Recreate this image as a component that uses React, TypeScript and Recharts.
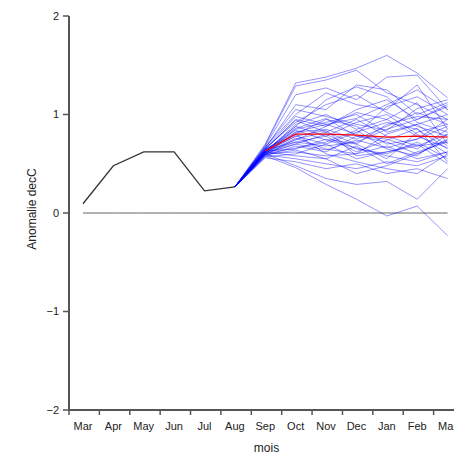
import React from 'react';
import { LineChart, Line, XAxis, YAxis, Label } from 'recharts';

const monthLabels = ['Mar', 'Apr', 'May', 'Jun', 'Jul', 'Aug', 'Sep', 'Oct', 'Nov', 'Dec', 'Jan', 'Feb', 'Mar'];
const monthIndex = [0, 1, 2, 3, 4, 5, 6, 7, 8, 9, 10, 11, 12];
const yTicks = [-2, -1, 0, 1, 2];

// Observed anomaly, Mar..Aug
const observed = [0.094, 0.48, 0.62, 0.62, 0.225, 0.265];
// Ensemble mean, Sep..Mar
const ensembleMean = [0.63, 0.8, 0.8, 0.79, 0.77, 0.78, 0.77];
// Ensemble members, Sep..Mar (all start from the last observed value in Aug)
const members: number[][] = [
  [0.70, 1.32, 1.38, 1.47, 1.60, 1.42, 1.17],
  [0.69, 1.29, 1.35, 1.45, 1.22, 1.10, 0.95],
  [0.68, 1.20, 1.27, 1.15, 1.38, 1.40, 1.05],
  [0.66, 1.10, 1.05, 1.30, 1.25, 1.00, 1.12],
  [0.67, 1.00, 1.22, 1.10, 1.05, 1.30, 0.85],
  [0.64, 0.95, 0.88, 1.05, 1.15, 0.95, 1.10],
  [0.62, 0.90, 1.00, 0.85, 0.95, 1.12, 0.70],
  [0.61, 0.85, 0.92, 1.00, 0.82, 0.90, 1.00],
  [0.63, 0.88, 0.78, 0.92, 1.00, 0.80, 0.60],
  [0.60, 0.82, 0.85, 0.75, 0.88, 1.02, 0.90],
  [0.65, 0.80, 0.95, 0.88, 0.70, 0.75, 0.95],
  [0.62, 0.78, 0.70, 0.82, 0.92, 0.85, 0.65],
  [0.59, 0.75, 0.82, 0.95, 0.78, 0.68, 0.80],
  [0.64, 0.72, 0.68, 0.72, 0.85, 0.95, 1.08],
  [0.61, 0.70, 0.80, 0.65, 0.60, 0.72, 0.55],
  [0.58, 0.68, 0.62, 0.78, 0.72, 0.60, 0.75],
  [0.63, 0.65, 0.75, 0.70, 0.55, 0.82, 0.90],
  [0.60, 0.62, 0.58, 0.60, 0.68, 0.55, 0.62],
  [0.57, 0.60, 0.70, 0.55, 0.62, 0.70, 0.50],
  [0.62, 0.58, 0.55, 0.68, 0.50, 0.62, 0.72],
  [0.59, 0.55, 0.50, 0.45, 0.52, 0.48, 0.58],
  [0.56, 0.52, 0.45, 0.50, 0.40, 0.45, 0.35],
  [0.60, 0.48, 0.35, 0.29, 0.32, 0.14, 0.45],
  [0.58, 0.46, 0.29, 0.14, -0.03, 0.07, -0.23],
  [0.66, 0.92, 1.10, 1.20, 1.02, 0.88, 0.78],
  [0.65, 0.98, 0.90, 0.80, 1.08, 1.18, 1.00],
  [0.63, 0.86, 0.96, 0.78, 0.75, 0.65, 0.85],
  [0.61, 0.76, 0.65, 0.60, 0.80, 0.90, 0.68],
  [0.64, 0.84, 0.74, 0.66, 0.58, 0.52, 0.62],
  [0.62, 0.74, 0.88, 1.02, 0.95, 0.78, 0.66],
  [0.60, 0.66, 0.72, 0.84, 0.65, 0.58, 0.80],
  [0.67, 1.05, 0.98, 0.90, 0.84, 1.06, 1.15],
  [0.63, 0.80, 0.60, 0.52, 0.45, 0.40, 0.60],
  [0.59, 0.64, 0.55, 0.40, 0.48, 0.60, 0.74],
  [0.62, 0.88, 1.15, 1.28, 1.18, 0.92, 0.82],
  [0.65, 0.94, 0.82, 0.70, 0.90, 0.98, 0.95],
  [0.61, 0.72, 0.78, 0.62, 0.74, 0.86, 0.52],
  [0.64, 0.82, 0.90, 0.96, 1.10, 1.25, 1.05],
  [0.60, 0.70, 0.64, 0.74, 0.66, 0.75, 0.88],
  [0.63, 0.78, 0.84, 0.58, 0.62, 0.68, 0.72],
];

const N_OBS = observed.length;
const rows = monthIndex.map((i) => {
  const row: Record<string, number | null> = {
    x: i,
    zero: 0,
    obs: i < N_OBS ? observed[i] : null,
    mean: i >= N_OBS ? ensembleMean[i - N_OBS] : null,
  };
  members.forEach((m, k) => {
    row['m' + k] = i === N_OBS - 1 ? observed[N_OBS - 1] : i >= N_OBS ? m[i - N_OBS] : null;
  });
  return row;
});

const FONT = '"Liberation Sans", Arial, Helvetica, sans-serif';
const AXIS_COLOR = '#555';
const TEXT_COLOR = '#222';

const CHART_W = 480;
const CHART_H = 456;
const MARGIN = { top: 16, right: 16, bottom: 0, left: 0 };
const Y_W = 69;
const X_H = 46;
const X_DOMAIN: [number, number] = [-0.46, 12.54];
const PLOT_W = CHART_W - MARGIN.left - MARGIN.right - Y_W;
const TICK_OFF = (0.46 * PLOT_W) / (X_DOMAIN[1] - X_DOMAIN[0]);

const BottomTick = (props: any) => {
  const { x, y, payload } = props;
  return (
    <g>
      <line x1={x - TICK_OFF} x2={x - TICK_OFF} y1={y} y2={y + 5} stroke={AXIS_COLOR} strokeWidth={1.5} />
      <text x={x} y={y + 20} textAnchor="middle" fontSize={11} fontFamily={FONT} fill={TEXT_COLOR}>
        {monthLabels[payload.value]}
      </text>
    </g>
  );
};

const TopTick = (props: any) => {
  const { x, y } = props;
  return <line x1={x - TICK_OFF} x2={x - TICK_OFF} y1={y} y2={y - 5} stroke={AXIS_COLOR} strokeWidth={1.5} />;
};

const fmtY = (v: number) => (v < 0 ? '\u2212' + String(-v) : String(v));

export default function App() {
  return (
    <div style={{ position: 'absolute', left: 0, top: 0, width: 454, height: 456, overflow: 'hidden', background: '#fff' }}>
      <LineChart width={CHART_W} height={CHART_H} data={rows} margin={MARGIN}>
        <XAxis
          xAxisId="b"
          dataKey="x"
          type="number"
          domain={X_DOMAIN}
          ticks={monthIndex}
          interval={0}
          height={X_H}
          tickSize={0}
          tickMargin={0}
          tickLine={false}
          tick={<BottomTick />}
          axisLine={{ stroke: AXIS_COLOR, strokeWidth: 2 }}
          allowDataOverflow
        >
          <Label
            content={() => (
              <text x={266.5} y={452} textAnchor="middle" fontSize={12} fontFamily={FONT} fill={TEXT_COLOR}>
                mois
              </text>
            )}
          />
        </XAxis>
        <XAxis
          xAxisId="t"
          dataKey="x"
          type="number"
          orientation="top"
          domain={X_DOMAIN}
          ticks={monthIndex}
          interval={0}
          height={0}
          tickSize={0}
          tickMargin={0}
          tickLine={false}
          tick={<TopTick />}
          axisLine={{ stroke: AXIS_COLOR, strokeWidth: 2 }}
          allowDataOverflow
        />
        <YAxis
          type="number"
          domain={[-2, 2]}
          ticks={yTicks}
          interval={0}
          width={Y_W}
          tickSize={6}
          tickMargin={4}
          tickFormatter={fmtY}
          tick={{ fontSize: 11, fontFamily: FONT, fill: TEXT_COLOR }}
          tickLine={{ stroke: AXIS_COLOR, strokeWidth: 1.5 }}
          axisLine={{ stroke: AXIS_COLOR, strokeWidth: 2 }}
          allowDataOverflow
        >
          <Label
            content={() => (
              <text
                x={36}
                y={209}
                transform="rotate(-90, 36, 209)"
                textAnchor="middle"
                fontSize={12}
                fontFamily={FONT}
                fill={TEXT_COLOR}
              >
                Anomalie decC
              </text>
            )}
          />
        </YAxis>
        <Line
          xAxisId="b"
          dataKey="zero"
          stroke="#666"
          strokeWidth={1}
          dot={false}
          activeDot={false}
          isAnimationActive={false}
        />
        {members.map((_, k) => (
          <Line
            key={k}
            xAxisId="b"
            dataKey={'m' + k}
            stroke="#0000ff"
            strokeOpacity={0.42}
            strokeWidth={1}
            dot={false}
            activeDot={false}
            isAnimationActive={false}
          />
        ))}
        <Line
          xAxisId="b"
          dataKey="obs"
          stroke="#333"
          strokeWidth={1.3}
          dot={false}
          activeDot={false}
          isAnimationActive={false}
        />
        <Line
          xAxisId="b"
          dataKey="mean"
          stroke="#ff0000"
          strokeWidth={1.3}
          dot={false}
          activeDot={false}
          isAnimationActive={false}
        />
      </LineChart>
    </div>
  );
}
